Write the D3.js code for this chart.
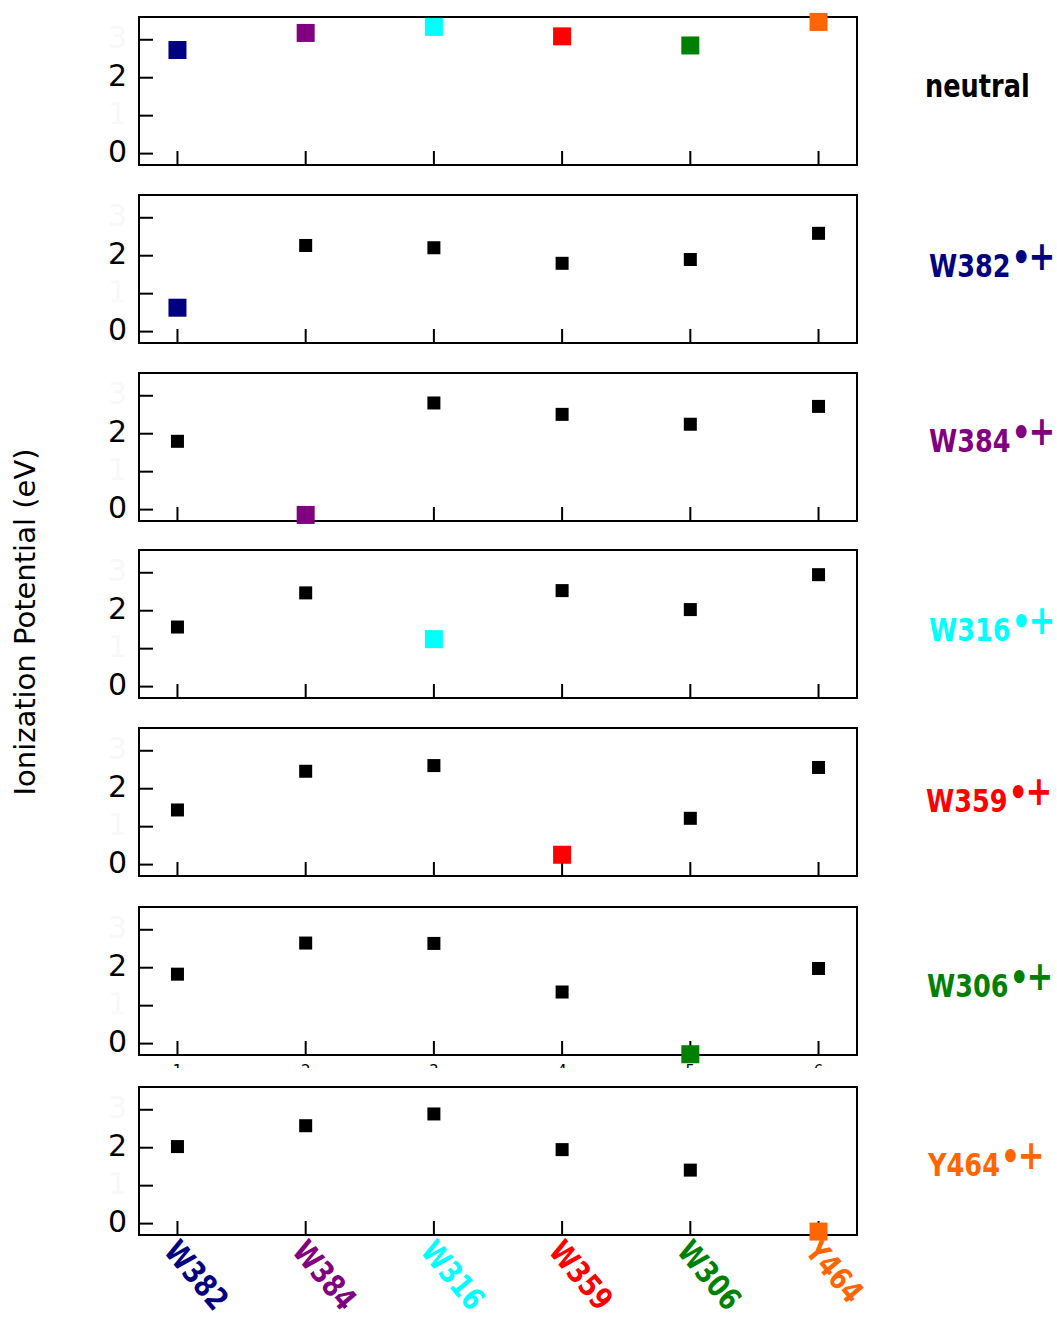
<!DOCTYPE html>
<html>
<head>
<meta charset="utf-8">
<script src="https://cdn.jsdelivr.net/npm/d3@7"></script>
<style>
  html, body { margin: 0; padding: 0; background: #fff; }
  svg { display: block; }
</style>
</head>
<body>
<svg id="chart" width="1057" height="1318"></svg>
<script>
// Residues along the electron-transfer chain (x positions 1..6)
const residues = ["W382", "W384", "W316", "W359", "W306", "Y464"];
const residueColors = ["#000080", "#800080", "#00ffff", "#ff0000", "#008000", "#ff6600"];

// One row per charge state: the neutral chain, then each residue oxidized
const rowNames = ["neutral", "W382", "W384", "W316", "W359", "W306", "Y464"];
const rowColors = ["#000000", "#000080", "#800080", "#00ffff", "#ff0000", "#008000", "#ff6600"];

// Ionization potentials (eV) of every residue in each state
const ipNeutral = [2.73, 3.18, 3.34, 3.09, 2.85, 3.47];
const ipW382 = [0.63, 2.27, 2.21, 1.80, 1.90, 2.59];
const ipW384 = [1.80, -0.14, 2.81, 2.51, 2.25, 2.72];
const ipW316 = [1.57, 2.47, 1.25, 2.53, 2.03, 2.95];
const ipW359 = [1.44, 2.46, 2.61, 0.26, 1.22, 2.56];
const ipW306 = [1.83, 2.65, 2.64, 1.36, -0.28, 1.98];
const ipY464 = [2.03, 2.58, 2.89, 1.95, 1.41, -0.21];
const rows = [ipNeutral, ipW382, ipW384, ipW316, ipW359, ipW306, ipY464];

const yTickValues = [0, 1, 2, 3];
const yTickLabels = ["0", "1", "2", "3"];
const xTickValues = [1, 2, 3, 4, 5, 6];

// Panel layout
const panelTops = [17, 195, 373, 550, 728, 907, 1087];
const panelH = 148;
const left = 139, right = 857;

const svg = d3.select("#chart");

const x = d3.scaleLinear().domain([0.7, 6.3]).range([left, right]);

rows.forEach((vals, r) => {
  const top = panelTops[r];
  const y = d3.scaleLinear().domain([-0.3, 3.6]).range([top + panelH, top]);
  const g = svg.append("g").attr("class", "panel");

  // white axes background (the last panel's background sits a bit higher)
  if (r === rows.length - 1) {
    g.append("rect").attr("x", left - 2).attr("y", top - 19)
      .attr("width", right - left + 4).attr("height", panelH + 21).attr("fill", "#fff");
  }

  // inward ticks on the left edge
  g.selectAll("line.yt").data(yTickValues).join("line")
    .attr("x1", left).attr("x2", left + 14)
    .attr("y1", d => y(d)).attr("y2", d => y(d))
    .attr("stroke", "#000").attr("stroke-width", 2);

  // inward ticks on the bottom edge
  g.selectAll("line.xt").data(xTickValues).join("line")
    .attr("x1", d => x(d)).attr("x2", d => x(d))
    .attr("y1", top + panelH).attr("y2", top + panelH - 14)
    .attr("stroke", "#000").attr("stroke-width", 2);

  // y tick labels: even values shown, odd ones nearly invisible
  g.selectAll("text.yl").data(yTickValues).join("text")
    .attr("x", 127).attr("y", d => y(d) - 2)
    .attr("text-anchor", "end").attr("dominant-baseline", "central")
    .attr("font-family", "DejaVu Sans").attr("font-size", 30)
    .attr("fill", d => d % 2 === 0 ? "#000" : "#f8f8f8")
    .text((d, i) => yTickLabels[i]);

  // frame
  g.append("rect").attr("x", left).attr("y", top)
    .attr("width", right - left).attr("height", panelH)
    .attr("fill", "none").attr("stroke", "#000").attr("stroke-width", 2);

  // squares: oxidized residue (or all, for neutral) large and coloured
  const pts = vals.map((v, i) => {
    const hi = r === 0 || i === r - 1;
    return { i, v, hi };
  });
  g.selectAll("rect.pt").data(pts).join("rect")
    .attr("class", "pt")
    .attr("x", d => x(d.i + 1) - (d.hi ? 9 : 6.5))
    .attr("y", d => y(d.v) - (d.hi ? 9 : 6.5))
    .attr("width", d => d.hi ? 18 : 13)
    .attr("height", d => d.hi ? 18 : 13)
    .attr("fill", d => d.hi ? residueColors[d.i] : "#000");

  // x tick numbers below the sixth panel (hidden behind the last panel)
  if (r === 5) {
    g.selectAll("text.xn").data(xTickValues).join("text")
      .attr("x", d => x(d)).attr("y", top + panelH + 21)
      .attr("text-anchor", "middle")
      .attr("font-family", "DejaVu Sans").attr("font-size", 15)
      .attr("fill", "#000").text(d => d);
  }

  // row label on the right
  const baselines = [97, 277, 452, 641, 812, 997, 1176];
  const starts = [925, 929, 929, 929, 926, 927, 928];
  const lab = svg.append("text")
    .attr("transform", `translate(${starts[r]},${baselines[r]}) scale(0.8,1)`)
    .attr("font-family", "DejaVu Sans").attr("font-weight", "bold")
    .attr("font-size", 32).attr("fill", rowColors[r]);
  lab.append("tspan").text(rowNames[r]);
  if (r > 0) {
    lab.append("tspan").attr("dx", 1).attr("dy", -6).attr("font-size", 38).text("\u2022");
    lab.append("tspan").attr("dx", -3).attr("dy", -1).attr("font-size", 40).text("+");
  }
});

// coloured residue names under the last panel
svg.append("g").selectAll("text.res").data(residues).join("text")
  .attr("transform", (d, i) => `translate(${x(i + 1) + 3},${1237}) rotate(50) scale(0.8,1)`)
  .attr("dominant-baseline", "hanging")
  .attr("font-family", "DejaVu Sans").attr("font-weight", "bold")
  .attr("font-size", 31)
  .attr("fill", (d, i) => residueColors[i])
  .text(d => d);

// shared y-axis title
svg.append("text")
  .attr("transform", "translate(35,622) rotate(-90)")
  .attr("text-anchor", "middle")
  .attr("font-family", "DejaVu Sans").attr("font-size", 29)
  .attr("fill", "#000")
  .text("Ionization Potential (eV)");
</script>
</body>
</html>
